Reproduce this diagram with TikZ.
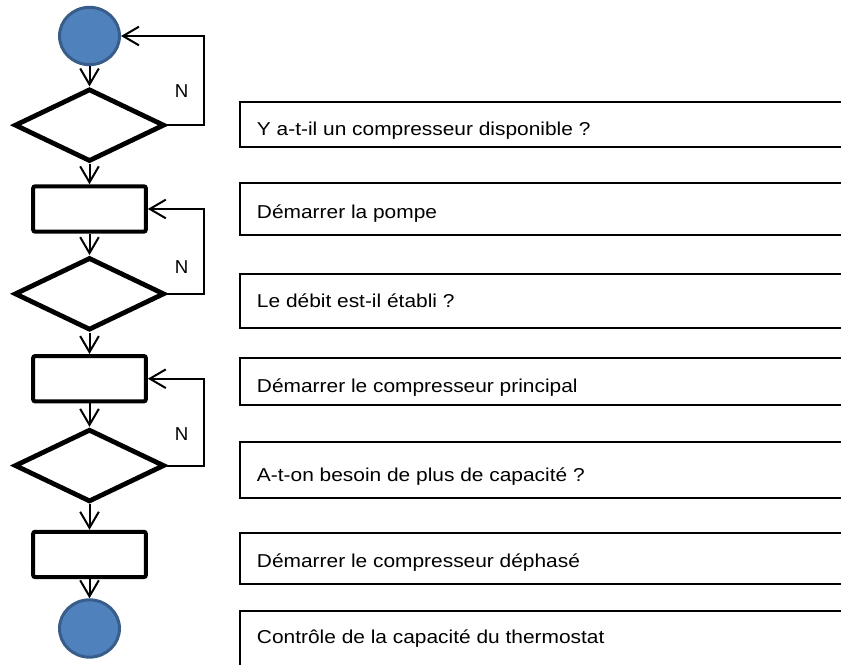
\documentclass[tikz,border=0pt]{standalone}
\usepackage{fontspec}
\setmainfont{Liberation Sans}
\newfontfamily\boxfont[FakeStretch=1.12]{Liberation Sans}
\usepackage{tikz}
\usetikzlibrary{shapes.geometric, arrows.meta, positioning}
\definecolor{termfill}{HTML}{4F81BD}
\definecolor{termdraw}{HTML}{385D8A}

\begin{document}
\begin{tikzpicture}[
    x=0.75pt, y=-0.75pt,
    terminal/.style={ellipse, draw=termdraw, fill=termfill, line width=2.25pt, minimum width=45pt, minimum height=43pt, inner sep=0pt},
    decision/.style={diamond, draw, line width=3.6pt, minimum width=112.5pt, minimum height=54.5pt, inner sep=0pt},
    process/.style={draw, line width=3pt, rounded corners=1.5pt, minimum width=84.5pt, minimum height=34pt, inner sep=0pt},
    infobox/.style={draw, line width=1.5pt, anchor=north west, minimum width=480pt, inner sep=0pt},
    infotext/.style={font=\boxfont\fontsize{14}{16}\selectfont, anchor=base west, inner sep=0pt},
    arrow/.style={-{Straight Barb[length=12pt, width=14pt]}, line width=1.5pt},
    nlabel/.style={font=\fontsize{14}{16}\selectfont, inner sep=0pt}
]
    \useasboundingbox (0,0) rectangle (841,664);

    % Flow chart
    \node[terminal] (start) at (89.5,36) {};
    \node[decision, below=15.2pt of start] (avail) {};
    \node[process, below=15.3pt of avail] (pump) {};
    \node[decision, below=16.1pt of pump] (flow) {};
    \node[process, below=16.1pt of flow] (lead) {};
    \node[decision, below=17.6pt of lead] (more) {};
    \node[process, below=19.1pt of more] (lag) {};
    \node[terminal, below=14.4pt of lag] (stop) {};

    % Main flow
    \draw[arrow] (start) -- (avail);
    \draw[arrow] (avail) -- (pump);
    \draw[arrow] (pump) -- (flow);
    \draw[arrow] (flow) -- (lead);
    \draw[arrow] (lead) -- (more);
    \draw[arrow] (more) -- (lag);
    \draw[arrow] (lag) -- (stop);

    % "No" loops
    \draw[arrow] (avail.east) -- ++(37,0) |- node[nlabel, pos=0.19, left=11pt] (n1) {N} (start);
    \draw[arrow] (flow.east) -- ++(37,0) |- node[nlabel, pos=0.16, left=11pt] (n2) {N} (pump);
    \draw[arrow] (more.east) -- ++(37,0) |- node[nlabel, pos=0.18, left=11pt] (n3) {N} (lead);

    % Step descriptions
    \node[infobox, minimum height=33.6pt] (q1) at (238.7,100.7) {};
    \node[infobox, minimum height=39pt] (q2) at (238.7,182) {};
    \node[infobox, minimum height=40.5pt] (q3) at (238.7,273) {};
    \node[infobox, minimum height=35.25pt] (q4) at (238.7,357) {};
    \node[infobox, minimum height=42pt] (q5) at (238.7,441) {};
    \node[infobox, minimum height=38.25pt] (q6) at (238.7,532) {};
    \node[infobox, minimum height=60pt] (q7) at (238.7,610) {};

    \node[infotext] (q1t) at ([shift={(18,34.3)}]q1.north west) {Y a-t-il un compresseur disponible ?};
    \node[infotext] (q2t) at ([shift={(18,36)}]q2.north west) {Démarrer la pompe};
    \node[infotext] (q3t) at ([shift={(18,34)}]q3.north west) {Le débit est-il établi ?};
    \node[infotext] (q4t) at ([shift={(18,35)}]q4.north west) {Démarrer le compresseur principal};
    \node[infotext] (q5t) at ([shift={(18,40)}]q5.north west) {A-t-on besoin de plus de capacité ?};
    \node[infotext] (q6t) at ([shift={(18,35)}]q6.north west) {Démarrer le compresseur déphasé};
    \node[infotext] (q7t) at ([shift={(18,33)}]q7.north west) {Contrôle de la capacité du thermostat};
\end{tikzpicture}
\end{document}
